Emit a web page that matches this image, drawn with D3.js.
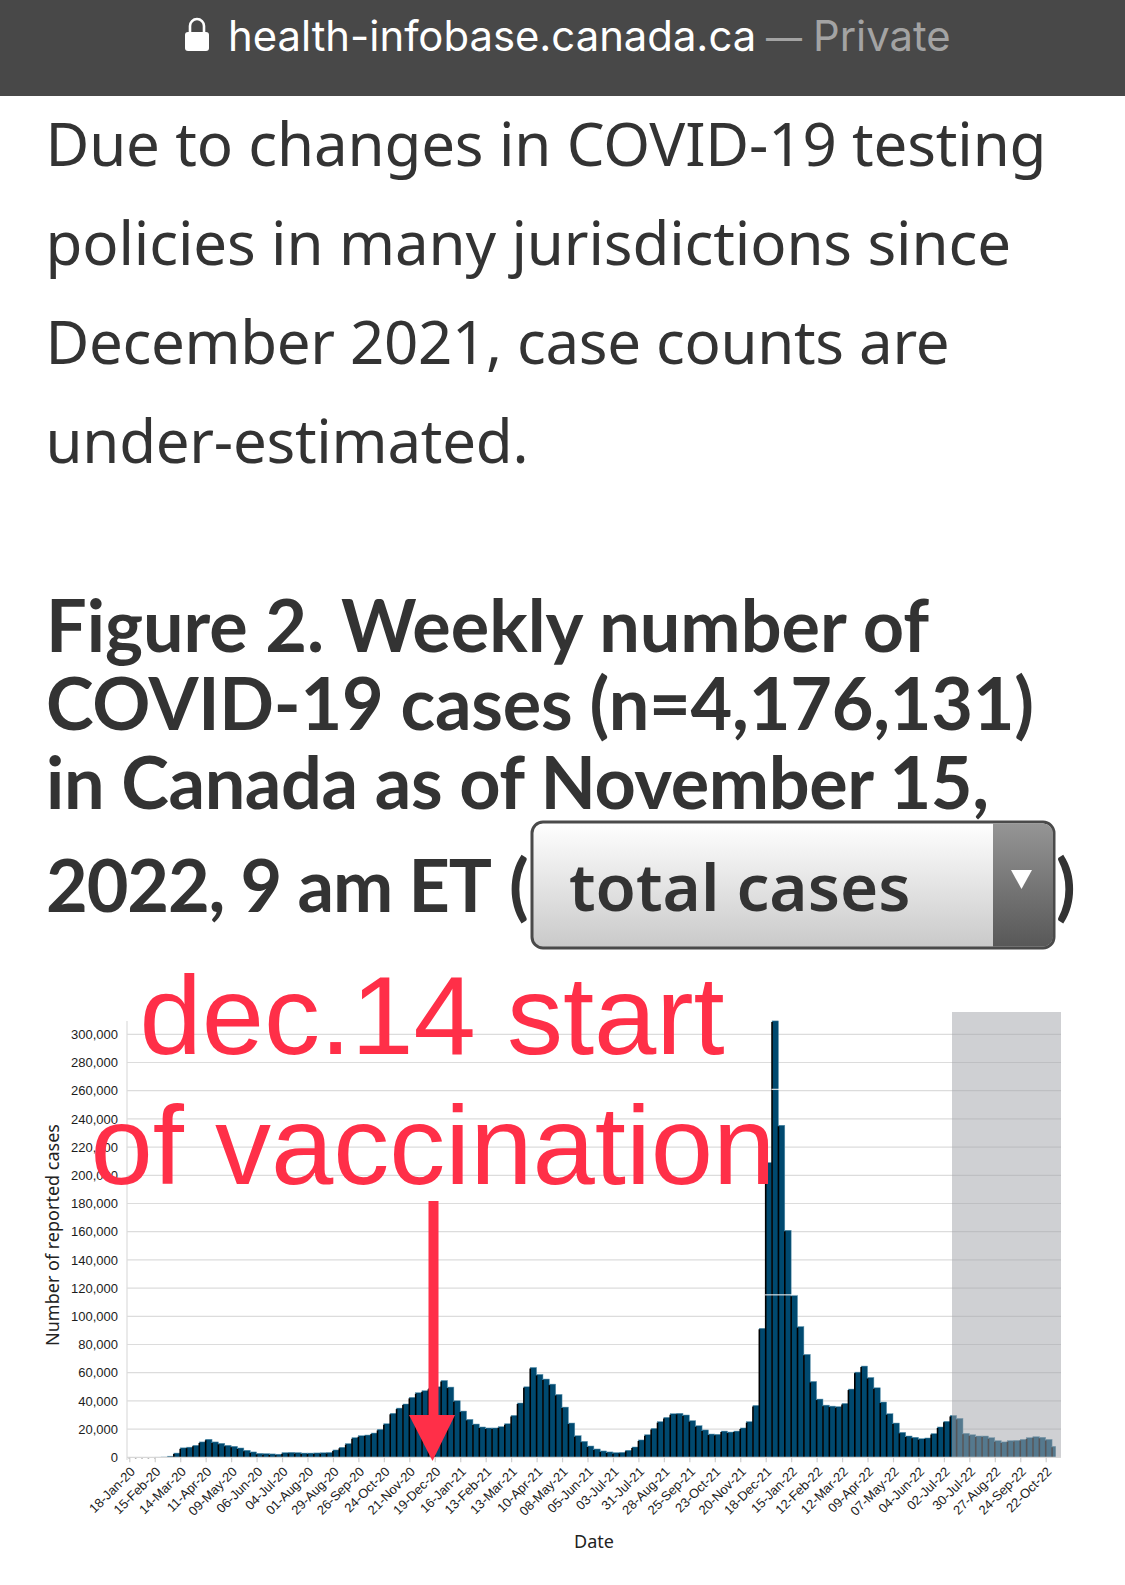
<!DOCTYPE html>
<html><head><meta charset="utf-8">
<script src="https://cdn.jsdelivr.net/npm/d3@7"></script>
<style>html,body{margin:0;padding:0;background:#fff}svg{display:block}</style>
</head><body>
<svg id="c" width="1125" height="1585"></svg>
<script>
const weeklyCases=[10,10,10,20,60,200,800,3000,6700,7200,8500,10900,12800,10900,9900,8500,7800,6600,5000,3800,2800,2600,2400,2200,3300,3500,3300,3000,3000,3100,3200,3400,5200,7100,9700,13900,15300,15800,17200,19800,23800,31200,34900,37800,42500,45800,47200,49000,50000,54500,49800,40100,32800,26900,23600,21500,20800,20800,21700,23800,29700,38500,50000,63700,58800,55500,51900,44600,35600,24300,15300,11300,8000,5900,4500,3800,3300,3500,5000,7300,12300,16000,20500,25300,28300,30900,31200,30000,26000,22400,19400,16500,16300,18600,17900,18600,20800,25300,36800,91500,209000,309500,235500,161000,115000,92700,73000,53800,41300,37000,36300,35900,38200,48400,60400,64700,56600,49300,39200,30900,24300,17700,15100,14200,13200,13700,16800,21500,25500,29700,27600,17000,16000,15100,15100,13900,11800,10900,11800,12000,12700,13900,14600,14200,12700,7800];
const dateLabels=["18-Jan-20","15-Feb-20","14-Mar-20","11-Apr-20","09-May-20","06-Jun-20","04-Jul-20","01-Aug-20","29-Aug-20","26-Sep-20","24-Oct-20","21-Nov-20","19-Dec-20","16-Jan-21","13-Feb-21","13-Mar-21","10-Apr-21","08-May-21","05-Jun-21","03-Jul-21","31-Jul-21","28-Aug-21","25-Sep-21","23-Oct-21","20-Nov-21","18-Dec-21","15-Jan-22","12-Feb-22","12-Mar-22","09-Apr-22","07-May-22","04-Jun-22","02-Jul-22","30-Jul-22","27-Aug-22","24-Sep-22","22-Oct-22"];
const yTicks=[0,20000,40000,60000,80000,100000,120000,140000,160000,180000,200000,220000,240000,260000,280000,300000];
const paragraph=["Due to changes in COVID-19 testing","policies in many jurisdictions since","December 2021, case counts are","under-estimated."];
const titleLines=["Figure 2. Weekly number of","COVID-19 cases (n=4,176,131)","in Canada as of November 15,","2022, 9 am ET"];

const svg=d3.select("#c");
const defs=svg.append("defs");
const g1=defs.append("linearGradient").attr("id","sel").attr("x2",0).attr("y2",1);
g1.append("stop").attr("offset",0).attr("stop-color","#ffffff");
g1.append("stop").attr("offset",1).attr("stop-color","#c9c9c9");
const g2=defs.append("linearGradient").attr("id","btn").attr("x2",0).attr("y2",1);
g2.append("stop").attr("offset",0).attr("stop-color","#959595");
g2.append("stop").attr("offset",1).attr("stop-color","#585858");

// browser bar
svg.append("rect").attr("width",1125).attr("height",96).attr("fill","#484848");
svg.append("rect").attr("x",185).attr("y",32).attr("width",24).attr("height",19).attr("rx",3).attr("fill","#fff");
svg.append("path").attr("d","M190 33v-7a7 7 0 0 1 14 0v7").attr("fill","none").attr("stroke","#fff").attr("stroke-width",2.6);
const urlFont="Inter, Roboto, sans-serif";
svg.append("text").attr("x",228).attr("y",50.5).attr("font-family",urlFont).attr("font-size",41.8).attr("fill","#fff").text("health-infobase.canada.ca");
svg.append("text").attr("x",766).attr("y",50.5).attr("font-family",urlFont).attr("font-size",36).attr("fill","#a3a3a3").text("—");
svg.append("text").attr("x",813).attr("y",50.5).attr("font-family",urlFont).attr("font-size",41.8).attr("fill","#a3a3a3").text("Private");

// paragraph
const paragraphW=[1001,965.5,904,483];
svg.selectAll("text.p").data(paragraph).join("text").attr("class","p")
 .attr("x",45.5).attr("y",(d,i)=>166+i*99).attr("fill","#333")
 .attr("font-family","'Noto Sans',sans-serif").attr("font-size",60).attr("textLength",(d,i)=>paragraphW[i]).attr("lengthAdjust","spacing").text(d=>d);
// title
const titleY=[652,730,809,912];
const titleW=[883,988,943,446];
svg.selectAll("text.t").data(titleLines).join("text").attr("class","t")
 .attr("x",46).attr("y",(d,i)=>titleY[i]).attr("fill","#333").attr("font-weight",700)
 .attr("font-family","Lato, sans-serif").attr("font-size",72).attr("textLength",(d,i)=>titleW[i]).attr("lengthAdjust","spacing").text(d=>d);
svg.append("text").attr("x",509).attr("y",912).attr("fill","#333").attr("font-weight",700)
 .attr("font-family","Lato, sans-serif").attr("font-size",72).text("(");
svg.append("text").attr("x",1056).attr("y",912).attr("fill","#333").attr("font-weight",700)
 .attr("font-family","Lato, sans-serif").attr("font-size",72).text(")");
// select
svg.append("rect").attr("x",532).attr("y",822).attr("width",522).attr("height",126).attr("rx",11).attr("fill","url(#sel)").attr("stroke","#4a4a4a").attr("stroke-width",3);
svg.append("path").attr("d","M993 823.5h50a10 10 0 0 1 10 10v103a10 10 0 0 1 -10 10h-50z").attr("fill","url(#btn)");
svg.append("path").attr("d","M1011 870h21l-10.5 19z").attr("fill","#fff");
svg.append("text").attr("x",569).attr("y",911).attr("fill","#333").attr("font-weight",600)
 .attr("font-family","'Noto Sans','Open Sans',sans-serif").attr("font-size",65.5).text("total cases");

// chart
const x=d3.scaleLinear().domain([0,146]).range([129.3,129.3+146*6.364]);
const y=d3.scaleLinear().domain([0,310000]).range([1457.3,1457.3-310*1.41]);
const gridRight=1061, plotLeft=127;
svg.selectAll("line.grid").data(yTicks.slice(1)).join("line").attr("class","grid")
 .attr("x1",plotLeft).attr("x2",gridRight).attr("y1",d=>y(d)).attr("y2",d=>y(d)).attr("stroke","#dcdcdc").attr("stroke-width",1.2);
svg.append("line").attr("x1",plotLeft).attr("x2",plotLeft).attr("y1",1021).attr("y2",1460).attr("stroke","#dcdcdc").attr("stroke-width",1.2);

defs.append("clipPath").attr("id","plot").append("rect").attr("x",plotLeft).attr("y",1000).attr("width",1055.7-plotLeft).attr("height",460);
const bars=svg.append("g").attr("clip-path","url(#plot)");
const w=x(1)-x(0);
bars.selectAll("rect").data(weeklyCases).join("rect")
 .attr("x",(d,i)=>x(i)).attr("width",w).attr("y",d=>y(d)).attr("height",d=>y(0)-y(d))
 .attr("fill","#00496f").attr("stroke","#5c93ad").attr("stroke-width",.5);
bars.selectAll("line").data(weeklyCases).join("line")
 .attr("x1",(d,i)=>x(i)).attr("x2",(d,i)=>x(i)).attr("y1",d=>y(d)+1).attr("y2",y(0)).attr("stroke","#000").attr("stroke-width",1.6);

// stitching seams in the screenshot
const seams=[[100.9,103,261000],[99.9,105,115200]];
svg.selectAll("line.seam").data(seams).join("line").attr("class","seam")
 .attr("x1",d=>x(d[0])).attr("x2",d=>x(d[1])).attr("y1",d=>y(d[2])).attr("y2",d=>y(d[2])).attr("stroke","#fff").attr("stroke-width",1);

// shaded region
svg.append("rect").attr("x",952).attr("y",1012).attr("width",gridRight-952).attr("height",y(0)-1012+.5).attr("fill","rgb(163,164,170)").attr("fill-opacity",.52);

// axes
const xAxis=svg.append("g").attr("transform",`translate(0,${y(0)})`)
 .call(d3.axisBottom(x).tickValues(dateLabels.map((d,i)=>i*4)).tickFormat(i=>dateLabels[i/4]).tickSize(5).tickSizeOuter(0));
xAxis.select(".domain").attr("stroke","#d8d8d8").attr("stroke-width",1.2).attr("d",`M${plotLeft},0H${gridRight}`);
xAxis.selectAll(".tick line").attr("stroke","#cfcfcf").attr("stroke-width",1.2);
xAxis.selectAll(".tick text").attr("font-family","'Liberation Sans',Arial,sans-serif").attr("font-size",13).attr("fill","#1c1c1c")
 .attr("text-anchor","end").attr("transform","translate(-6,3) rotate(-45)").attr("dy","0.71em");
const yAxis=svg.append("g").attr("transform",`translate(${plotLeft},0)`)
 .call(d3.axisLeft(y).tickValues(yTicks).tickFormat(d3.format(",")).tickSize(0).tickPadding(9));
yAxis.select(".domain").remove();
yAxis.selectAll(".tick text").attr("font-family","'Liberation Sans',Arial,sans-serif").attr("font-size",13).attr("fill","#1c1c1c");
svg.append("text").attr("transform","translate(59,1235) rotate(-90)").attr("text-anchor","middle")
 .attr("font-family","'Noto Sans',sans-serif").attr("font-size",18).attr("fill","#222").text("Number of reported cases");
svg.append("text").attr("x",594).attr("y",1548).attr("text-anchor","middle")
 .attr("font-family","'Noto Sans',sans-serif").attr("font-size",18).attr("fill","#222").text("Date");

// annotation
const red="#ff2f48";
svg.append("text").attr("x",139.5).attr("y",1054).attr("fill",red).attr("font-family","'Liberation Sans',Arial,sans-serif").attr("font-size",112).text("dec.14 start");
svg.append("text").attr("x",90.5).attr("y",1184).attr("fill",red).attr("font-family","'Liberation Sans',Arial,sans-serif").attr("font-size",112).text("of vaccination");
svg.append("rect").attr("x",428.5).attr("y",1201).attr("width",10).attr("height",216).attr("fill",red);
svg.append("path").attr("d","M409 1415H455L432.5 1461Z").attr("fill",red);
</script>
</body></html>
